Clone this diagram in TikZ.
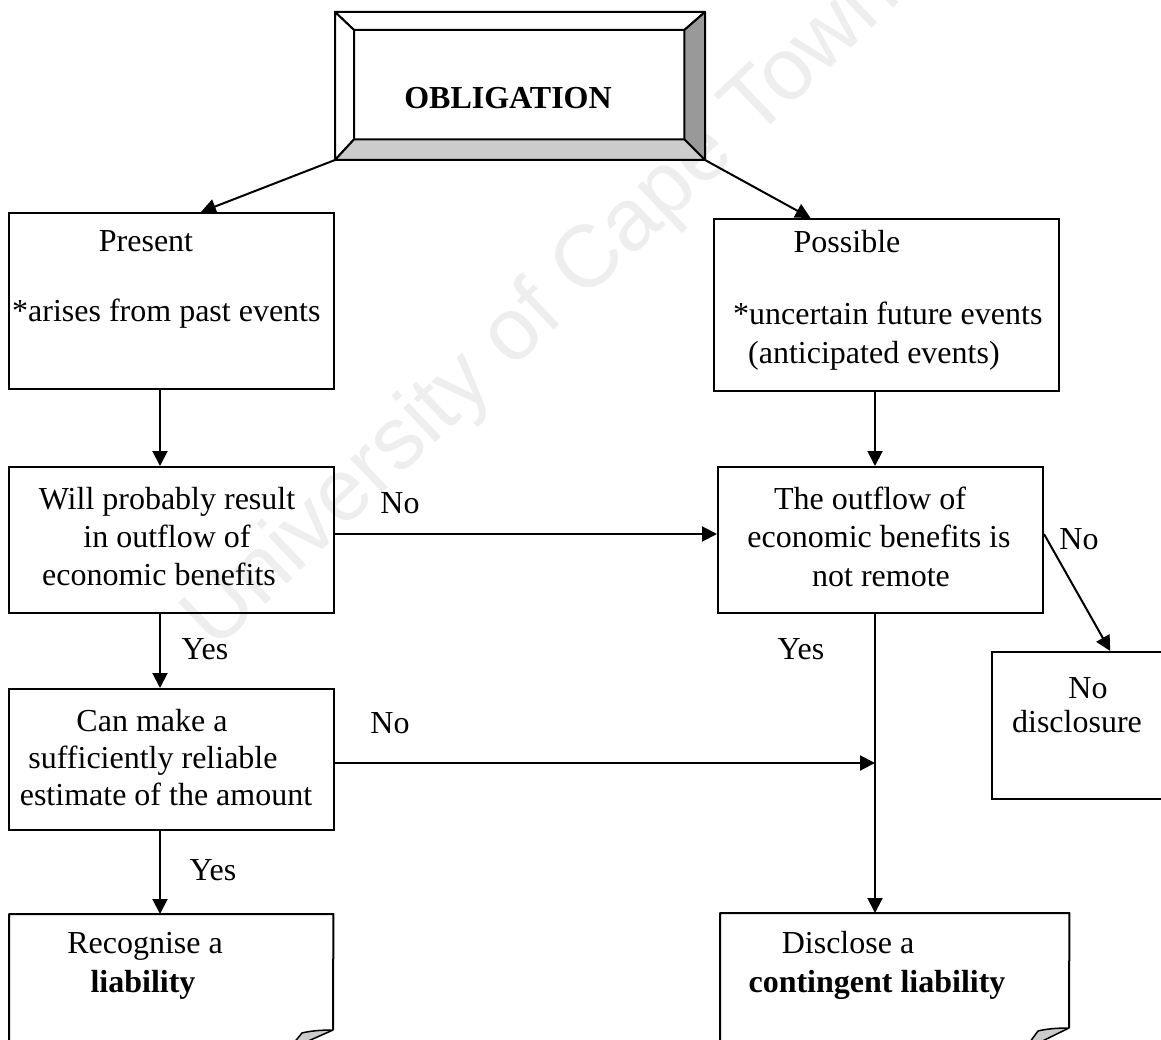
\documentclass[tikz,border=0pt]{standalone}
\usepackage{fontspec}
\setmainfont{Liberation Serif}
\newfontfamily\wmfont{Liberation Sans}
\usetikzlibrary{arrows.meta,calc}
\tikzset{
  box/.style={draw, line width=2pt, rectangle, inner sep=0pt, anchor=north west},
  ghost/.style={rectangle, inner sep=0pt, anchor=north west},
  txt/.style={font=\fontsize{32}{37}\selectfont, inner sep=0pt, anchor=base},
  txtl/.style={font=\fontsize{32}{37}\selectfont, inner sep=0pt, anchor=base west},
  arr/.style={line width=2pt, -{Triangle[length=15pt,width=15pt]}},
  conn/.style={line width=2pt},
  wm/.style={font=\wmfont\fontsize{88}{88}\selectfont, text=gray!13, rotate=43.5, anchor=base west, inner sep=0pt},
}
\begin{document}
\begin{tikzpicture}[x=1pt,y=-1pt]
\useasboundingbox (0,0) rectangle (1161,1040);
\clip (0,0) rectangle (1161,1040);
\fill[white] (0,0) rectangle (1161,1040);

% watermark
\node[wm] (wmark) at (215,652) {University of Cape Town};

% OBLIGATION bevel box
\node[box, minimum width=368pt, minimum height=146pt] (ob) at (335,12) {};
\node[ghost, minimum width=330pt, minimum height=109pt] (obin) at (354,30) {};
\filldraw[fill=white, line width=2pt, line join=round] (ob.north west) -- (ob.north east) -- (obin.north east) -- (obin.north west) -- cycle;
\filldraw[fill=white, line width=2pt, line join=round] (ob.north west) -- (obin.north west) -- (obin.south west) -- (ob.south west) -- cycle;
\filldraw[fill=gray!80, line width=2pt, line join=round] (ob.north east) -- (ob.south east) -- (obin.south east) -- (obin.north east) -- cycle;
\filldraw[fill=gray!40, line width=2pt, line join=round] (ob.south west) -- (ob.south east) -- (obin.south east) -- (obin.south west) -- cycle;
\node[txt, font=\fontsize{32}{37}\selectfont\bfseries] (obtxt) at (508,109) {OBLIGATION};

% boxes
\node[box, minimum width=325pt, minimum height=176pt] (present) at (8,212) {};
\node[box, minimum width=345pt, minimum height=172pt] (possible) at (713,218) {};
\node[box, minimum width=325pt, minimum height=146pt] (will) at (8,466) {};
\node[box, minimum width=325pt, minimum height=146pt] (outflow) at (717,466) {};
\node[box, minimum width=325pt, minimum height=141pt] (can) at (8,688) {};
\node[box, minimum width=190pt, minimum height=147pt] (nodisc) at (991,651) {};
\node[ghost, minimum width=324pt, minimum height=140pt] (recog) at (9,914) {};
\node[ghost, minimum width=349pt, minimum height=140pt] (discl) at (720,913) {};

% document shapes with folded corner
\draw[conn, line join=round] (recog.south west) -- (recog.north west) -- (recog.north east) -- (333,1030);
\filldraw[fill=gray!40, line width=1.5pt, line join=round] (333,1030) .. controls (320,1030) and (310,1031) .. (302,1033) -- (288,1050) -- cycle;
\draw[conn, line join=round] (discl.south west) -- (discl.north west) -- (discl.north east) -- (1069,1028);
\filldraw[fill=gray!40, line width=1.5pt, line join=round] (1069,1028) .. controls (1056,1028) and (1046,1029) .. (1038,1031) -- (1024,1050) -- cycle;

% texts
\node[txt] (t1) at (146,252) {Present};
\node[txtl] (t2) at (12,322) {*arises from past events};
\node[txt] (t3) at (847,253) {Possible};
\node[txtl] (t4) at (733,325) {*uncertain future events};
\node[txtl] (t5) at (748,363) {(anticipated events)};
\node[txt] (t6) at (167,509) {Will probably result};
\node[txt] (t7) at (167,547) {in outflow of};
\node[txt] (t8) at (159,585) {economic benefits};
\node[txt] (t9) at (870,509) {The outflow of};
\node[txt] (t10) at (879,547) {economic benefits is};
\node[txt] (t11) at (881,586) {not remote};
\node[txt] (t12) at (152,731) {Can make a};
\node[txt] (t13) at (153,768) {sufficiently reliable};
\node[txt] (t14) at (166,805) {estimate of the amount};
\node[txt] (t15) at (1088,698) {No};
\node[txt] (t16) at (1077,732) {disclosure};
\node[txt] (t17) at (145,953) {Recognise a};
\node[txt, font=\fontsize{32}{37}\selectfont\bfseries] (t18) at (143,992) {liability};
\node[txt] (t19) at (848,953) {Disclose a};
\node[txt, font=\fontsize{32}{37}\selectfont\bfseries] (t20) at (877,992) {contingent liability};

% labels
\node[txt] (l1) at (400,513) {No};
\node[txt] (l2) at (1079,549) {No};
\node[txt] (l3) at (205,659) {Yes};
\node[txt] (l4) at (801,659) {Yes};
\node[txt] (l5) at (390,733) {No};
\node[txt] (l6) at (213,880) {Yes};

% connectors
\coordinate (xl) at (160,0);
\coordinate (xr) at (875,0);
\coordinate (yno1) at (0,534);
\coordinate (yno2) at (0,763);
\coordinate (junc) at (xr |- yno2);
\draw[arr] (ob.south west) -- ($(present.north west)!0.59!(present.north east)$);
\draw[arr] (ob.south east) -- ($(possible.north west)!0.281!(possible.north east)$);
\draw[arr] (present.south -| xl) -- (will.north -| xl);
\draw[arr] (possible.south -| xr) -- (outflow.north -| xr);
\draw[arr] (will.east |- yno1) -- (outflow.west |- yno1);
\draw[arr] (outflow.east |- yno1) -- ($(nodisc.north west)!0.621!(nodisc.north east)$);
\draw[arr] (will.south -| xl) -- (can.north -| xl);
\draw[arr] (outflow.south -| xr) -- (discl.north -| xr);
\draw[arr] (can.east |- yno2) -- (junc);
\draw[arr] (can.south -| xl) -- (recog.north -| xl);
\end{tikzpicture}
\end{document}
